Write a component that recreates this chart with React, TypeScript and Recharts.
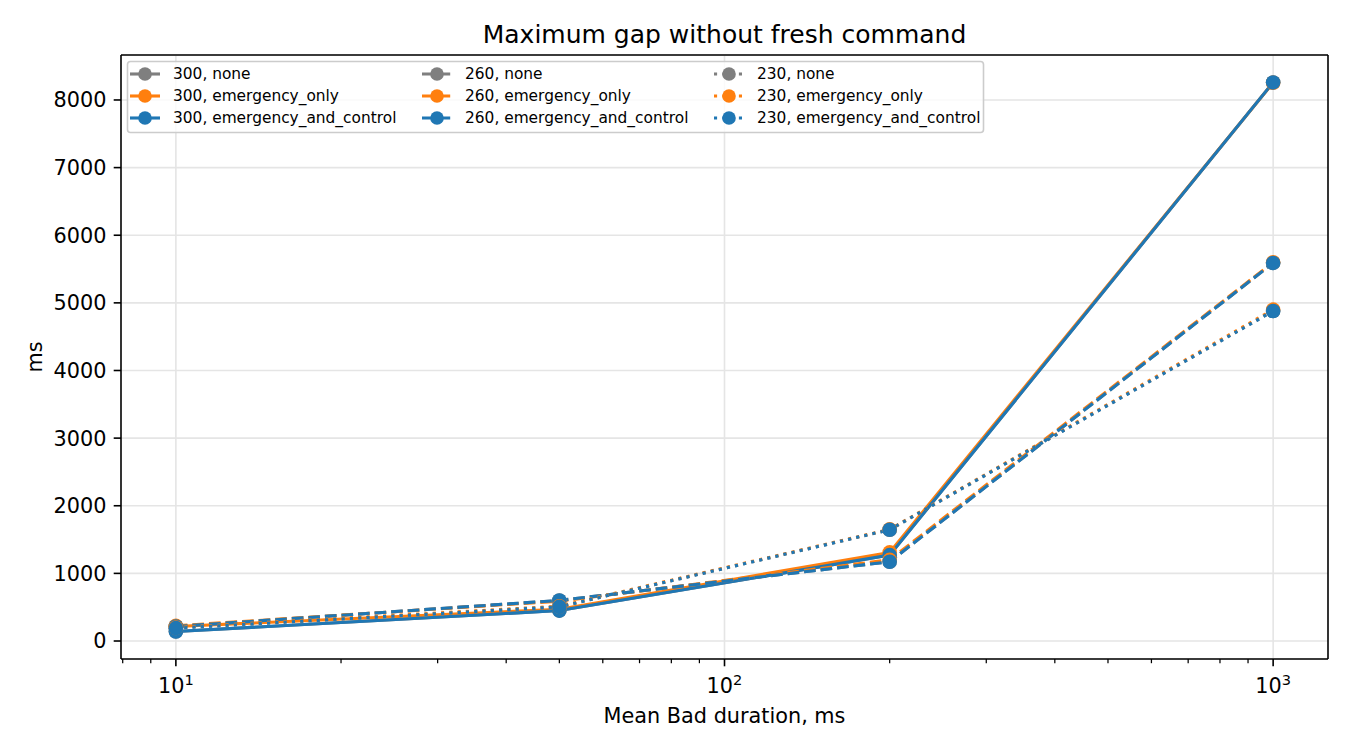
import React from 'react';
import { LineChart, Line, XAxis, YAxis, CartesianGrid, Legend, ReferenceLine } from 'recharts';

// ---- data ----
const durations = [10, 50, 200, 1000];
const none300 = [140, 450, 1270, 8259];
const emergencyOnly300 = [215, 470, 1310, 8255];
const emergencyControl300 = [140, 450, 1270, 8259];
const none260 = [215, 600, 1172, 5590];
const emergencyOnly260 = [225, 590, 1200, 5600];
const emergencyControl260 = [215, 600, 1172, 5590];
const none230 = [190, 505, 1645, 4880];
const emergencyOnly230 = [200, 515, 1650, 4900];
const emergencyControl230 = [190, 505, 1645, 4880];

const yTicks = [0, 1000, 2000, 3000, 4000, 5000, 6000, 7000, 8000];
const xMajorTicks = [10, 100, 1000];
const xMinorTicks = [8, 9, 20, 30, 40, 50, 60, 70, 80, 90, 200, 300, 400, 500, 600, 700, 800, 900];

const title = 'Maximum gap without fresh command';
const xLabel = 'Mean Bad duration, ms';
const yLabel = 'ms';

// ---- styles ----
const GRAY = '#7f7f7f';
const ORANGE = '#ff7f0e';
const BLUE = '#1f77b4';
const SOLID = undefined;
const DASHED = '11.6 5';
const DOTTED = '3.1 5.2';
const FONT = "'DejaVu Sans', sans-serif";
const X_DOMAIN: [number, number] = [7.943, 1258.9];
const Y_DOMAIN: [number, number] = [-266, 8665];

const seriesDefs = [
  { key: 'n300', label: '300, none', values: none300, color: GRAY, dash: SOLID },
  { key: 'eo300', label: '300, emergency_only', values: emergencyOnly300, color: ORANGE, dash: SOLID },
  { key: 'ec300', label: '300, emergency_and_control', values: emergencyControl300, color: BLUE, dash: SOLID },
  { key: 'n260', label: '260, none', values: none260, color: GRAY, dash: DASHED },
  { key: 'eo260', label: '260, emergency_only', values: emergencyOnly260, color: ORANGE, dash: DASHED },
  { key: 'ec260', label: '260, emergency_and_control', values: emergencyControl260, color: BLUE, dash: DASHED },
  { key: 'n230', label: '230, none', values: none230, color: GRAY, dash: DOTTED },
  { key: 'eo230', label: '230, emergency_only', values: emergencyOnly230, color: ORANGE, dash: DOTTED },
  { key: 'ec230', label: '230, emergency_and_control', values: emergencyControl230, color: BLUE, dash: DOTTED },
];

const tableData = durations.map((d, i) => {
  const row: Record<string, number> = { x: d };
  seriesDefs.forEach((s) => {
    row[s.key] = s.values[i];
  });
  return row;
});

const allXTicks = [...xMinorTicks, ...xMajorTicks].sort((a, b) => a - b);

const XTick = (props: any) => {
  const { x, y, payload } = props;
  const v = payload.value;
  const major = xMajorTicks.includes(v);
  const exp = Math.round(Math.log10(v));
  return (
    <g>
      <line
        x1={x}
        x2={x}
        y1={y}
        y2={y + (major ? 7.3 : 4.2)}
        stroke="#000"
        strokeWidth={major ? 1.6 : 1.25}
      />
      {major && (
        <text x={x} y={y + 34} textAnchor="middle" fontSize={20.8} fill="#000" fontFamily={FONT}>
          10
          <tspan dy={-8.5} fontSize={14.6}>
            {exp}
          </tspan>
        </text>
      )}
    </g>
  );
};

const LegendBox = () => {
  const colW = 292;
  const rowH = 22;
  return (
    <svg width={858} height={73} style={{ display: 'block', overflow: 'visible' }}>
      <rect x={0.5} y={0.5} width={856} height={71} rx={3} ry={3} fill="#fff" fillOpacity={0.8} stroke="#cccccc" strokeWidth={1.6} />
      {seriesDefs.map((s, i) => {
        const c = Math.floor(i / 3);
        const r = i % 3;
        const x0 = 3 + c * colW;
        const y0 = 13 + r * rowH;
        return (
          <g key={s.key}>
            <line x1={x0} x2={x0 + 30} y1={y0} y2={y0} stroke={s.color} strokeWidth={3.1} strokeDasharray={s.dash} />
            <circle cx={x0 + 15} cy={y0} r={6.8} fill={s.color} />
            <text x={x0 + 43} y={y0} dominantBaseline="central" fontSize={15.4} fill="#000" fontFamily={FONT}>
              {s.label}
            </text>
          </g>
        );
      })}
    </svg>
  );
};

const YLabel = (props: any) => {
  const vb = props.viewBox || { x: 0, y: 55, width: 121, height: 604 };
  const cx = 35;
  const cy = vb.y + vb.height / 2;
  return (
    <text x={cx} y={cy} transform={`rotate(-90 ${cx} ${cy})`} textAnchor="middle" dominantBaseline="central" fontSize={20.8} fill="#000" fontFamily={FONT}>
      {yLabel}
    </text>
  );
};

const XLabel = (props: any) => {
  const vb = props.viewBox || { x: 121, y: 659, width: 1207, height: 91 };
  const cx = vb.x + vb.width / 2;
  return (
    <text x={cx} y={vb.y + 64} textAnchor="middle" fontSize={20.8} fill="#000" fontFamily={FONT}>
      {xLabel}
    </text>
  );
};

export default function App() {
  return (
    <div style={{ position: 'absolute', left: 0, top: 0, width: 1350, height: 750, background: '#fff', fontFamily: FONT }}>
      <svg width={1350} height={55} style={{ position: 'absolute', left: 0, top: 0, zIndex: 2, pointerEvents: 'none' }}>
        <text x={724.5} y={42.5} textAnchor="middle" fontSize={25} fill="#000" fontFamily={FONT}>
          {title}
        </text>
      </svg>
      <LineChart width={1350} height={750} data={tableData} margin={{ top: 55, right: 22, left: 0, bottom: 0 }}>
        <CartesianGrid vertical={false} stroke="#e5e5e5" strokeWidth={1.6} />
        {xMajorTicks.map((t) => (
          <ReferenceLine key={`g${t}`} x={t} stroke="#e5e5e5" strokeWidth={1.6} />
        ))}
        <XAxis
          dataKey="x"
          type="number"
          scale="log"
          domain={X_DOMAIN}
          allowDataOverflow
          ticks={allXTicks}
          interval={0}
          tick={<XTick />}
          tickSize={0}
          tickMargin={0}
          tickLine={false}
          height={91}
          axisLine={{ stroke: '#000', strokeWidth: 1.6 }}
          label={<XLabel />}
        />
        <YAxis
          type="number"
          domain={Y_DOMAIN}
          allowDataOverflow
          ticks={yTicks}
          interval={0}
          width={121}
          tickSize={7.3}
          tickMargin={7.3}
          tick={{ fontSize: 20.8, fill: '#000', fontFamily: FONT }}
          tickLine={{ stroke: '#000', strokeWidth: 1.6 }}
          axisLine={{ stroke: '#000', strokeWidth: 1.6 }}
          label={<YLabel />}
        />
        <ReferenceLine y={Y_DOMAIN[1]} stroke="#000" strokeWidth={1.6} />
        <ReferenceLine x={X_DOMAIN[1]} stroke="#000" strokeWidth={1.6} />
        {seriesDefs.map((s) => (
          <Line
            key={s.key}
            type="linear"
            dataKey={s.key}
            name={s.label}
            stroke={s.color}
            strokeWidth={3.1}
            strokeDasharray={s.dash}
            dot={{ r: 7.3, fill: s.color, stroke: 'none', strokeWidth: 0 }}
            activeDot={false}
            isAnimationActive={false}
          />
        ))}
        <Legend
          layout="horizontal"
          verticalAlign="middle"
          align="center"
          content={<LegendBox />}
          wrapperStyle={{ position: 'absolute', left: 127, top: 61, width: 858, height: 73 }}
        />
      </LineChart>
    </div>
  );
}
